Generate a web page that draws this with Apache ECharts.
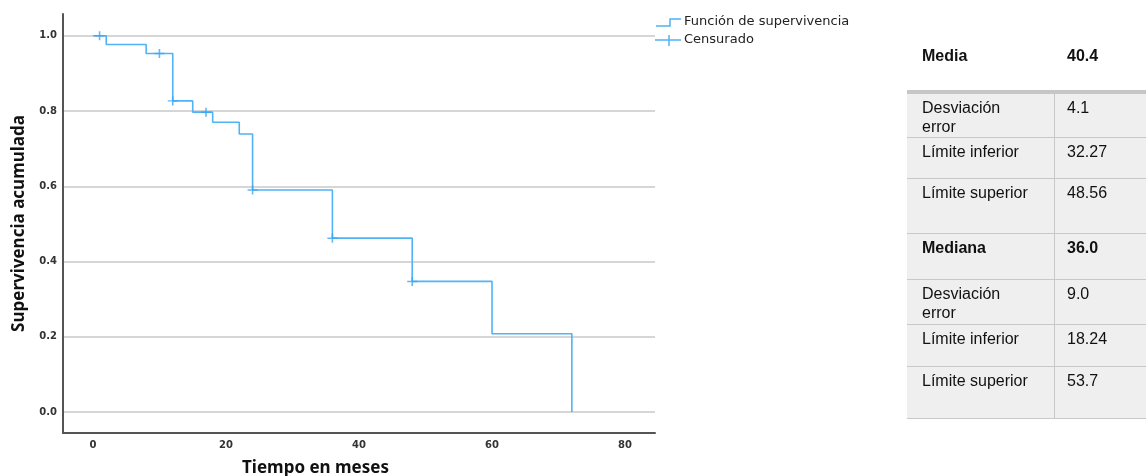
<!DOCTYPE html>
<html>
<head>
<meta charset="utf-8">
<script src="https://cdn.jsdelivr.net/npm/echarts@6/dist/echarts.min.js"></script>
<style>
  html, body { margin:0; padding:0; background:#fff; }
  #wrap { position:relative; width:1146px; height:476px; overflow:hidden; }
  #chart { position:absolute; left:0; top:0; width:1146px; height:476px; }
  .row { position:absolute; left:907px; width:239px; box-sizing:border-box; font-family:"Liberation Sans", Arial, sans-serif; font-size:16px; line-height:19px; color:#111; }
  .lab { position:absolute; left:15px; top:4px; width:112px; }
  .val { position:absolute; left:160px; top:4px; }
  .bold { font-weight:bold; }
</style>
</head>
<body>
<div id="wrap">
  <div id="chart"></div>
</div>
<script>
// ---- Data ----
const survTimes  = [0, 2, 8, 12, 15, 18, 22, 24, 36, 48, 60, 72];
const survValues = [1.0, 0.977, 0.953, 0.827, 0.797, 0.770, 0.739, 0.590, 0.462, 0.347, 0.208, 0.0];
const censTimes  = [1, 10, 12, 17, 24, 36, 48];
const censValues = [1.0, 0.953, 0.827, 0.797, 0.590, 0.462, 0.347];
const xTicks = [0, 20, 40, 60, 80];
const yTicks = [0, 0.2, 0.4, 0.6, 0.8, 1.0];
const legendNames = ['Función de supervivencia', 'Censurado'];
const tableLabels = ['Media', 'Desviación error', 'Límite inferior', 'Límite superior', 'Mediana', 'Desviación error', 'Límite inferior', 'Límite superior'];
const tableValues = ['40.4', '4.1', '32.27', '48.56', '36.0', '9.0', '18.24', '53.7'];
const tableBold   = [true, false, false, false, true, false, false, false];

// ---- Table (HTML) ----
const rowTops    = [42, 94, 138, 179, 234, 280, 325, 367];
const rowHeights = [48, 44, 41, 55, 46, 45, 42, 52];
const wrap = document.getElementById('wrap');
const band = document.createElement('div');
band.style.cssText = 'position:absolute;left:907px;top:90px;width:239px;height:4px;background:#c6c6c6;';
wrap.appendChild(band);
tableLabels.forEach((lab, i) => {
  const r = document.createElement('div');
  r.className = 'row' + (tableBold[i] ? ' bold' : '');
  r.style.top = rowTops[i] + 'px';
  r.style.height = rowHeights[i] + 'px';
  if (i > 0) {
    r.style.background = '#efefef';
    r.style.borderBottom = '1px solid #c8c8c8';
  }
  const a = document.createElement('div'); a.className = 'lab'; a.textContent = lab;
  const b = document.createElement('div'); b.className = 'val'; b.textContent = tableValues[i];
  r.appendChild(a); r.appendChild(b);
  if (i > 0) {
    const v = document.createElement('div');
    v.style.cssText = 'position:absolute;left:147px;top:0;bottom:0;width:1px;background:#c8c8c8;';
    r.appendChild(v);
  }
  wrap.appendChild(r);
});

// ---- Chart ----
const chart = echarts.init(document.getElementById('chart'), null, { renderer: 'canvas' });
const blue = '#4fb3f6';
const option = {
  animation: false,
  backgroundColor: 'transparent',
  grid: { left: 63, right: 491, top: 14, bottom: 43, containLabel: false, outerBoundsMode: 'none' },
  xAxis: {
    type: 'value', min: -4.5, max: 84.5,
    axisLine: { show: true, onZero: false, lineStyle: { color: '#555', width: 2 } },
    axisTick: { show: false, customValues: xTicks },
    splitLine: { show: false },
    axisLabel: { customValues: xTicks, formatter: v => String(Math.round(v)), color: '#333', fontSize: 10, fontWeight: 'bold', fontFamily: 'DejaVu Sans', margin: 7 },
    name: 'Tiempo en meses', nameLocation: 'middle', nameGap: 27,
    nameTextStyle: { fontFamily: 'Noto Sans', fontWeight: 'bold', fontSize: 17, color: '#111', padding: [0, 87, 0, 0] }
  },
  yAxis: {
    type: 'value', min: -0.056, max: 1.058,
    axisLine: { show: true, onZero: false, lineStyle: { color: '#555', width: 2 } },
    axisTick: { show: false, customValues: yTicks },
    splitLine: { show: true, lineStyle: { color: '#c8c8c8', width: 1.5 } },
    axisLabel: { customValues: yTicks, formatter: v => v.toFixed(1), color: '#333', fontSize: 10, fontWeight: 'bold', fontFamily: 'DejaVu Sans', margin: 6 },
    name: 'Supervivencia acumulada', nameLocation: 'middle', nameGap: 35,
    nameTextStyle: { fontFamily: 'Noto Sans', fontWeight: 'bold', fontSize: 17, color: '#111' }
  },
  series: [
    {
      name: legendNames[0], type: 'line', step: 'end',
      data: survTimes.map((t, i) => [t, survValues[i]]),
      symbol: 'none',
      lineStyle: { color: blue, width: 1.6 },
      z: 3
    },
    {
      name: legendNames[1], type: 'scatter',
      data: censTimes.map((t, i) => [t, censValues[i]]),
      symbol: 'path://M0,5 L10,5 M5,0 L5,10',
      symbolSize: [10, 9],
      itemStyle: { color: 'none', borderColor: '#3aa6f2', borderWidth: 1.5 },
      z: 4
    }
  ],
  graphic: [
    { type: 'polyline', shape: { points: [[656, 26], [670, 26], [670, 19], [681, 19]] }, style: { stroke: blue, lineWidth: 1.5, fill: null } },
    { type: 'text', x: 684, y: 22, style: { text: legendNames[0], font: '13px "DejaVu Sans"', fill: '#222', verticalAlign: 'middle' } },
    { type: 'line', shape: { x1: 655, y1: 40, x2: 681, y2: 40 }, style: { stroke: blue, lineWidth: 1.5 } },
    { type: 'line', shape: { x1: 669, y1: 35, x2: 669, y2: 46 }, style: { stroke: blue, lineWidth: 1.5 } },
    { type: 'text', x: 684, y: 40, style: { text: legendNames[1], font: '13px "DejaVu Sans"', fill: '#222', verticalAlign: 'middle' } }
  ]
};
chart.setOption(option);
</script>
</body>
</html>
